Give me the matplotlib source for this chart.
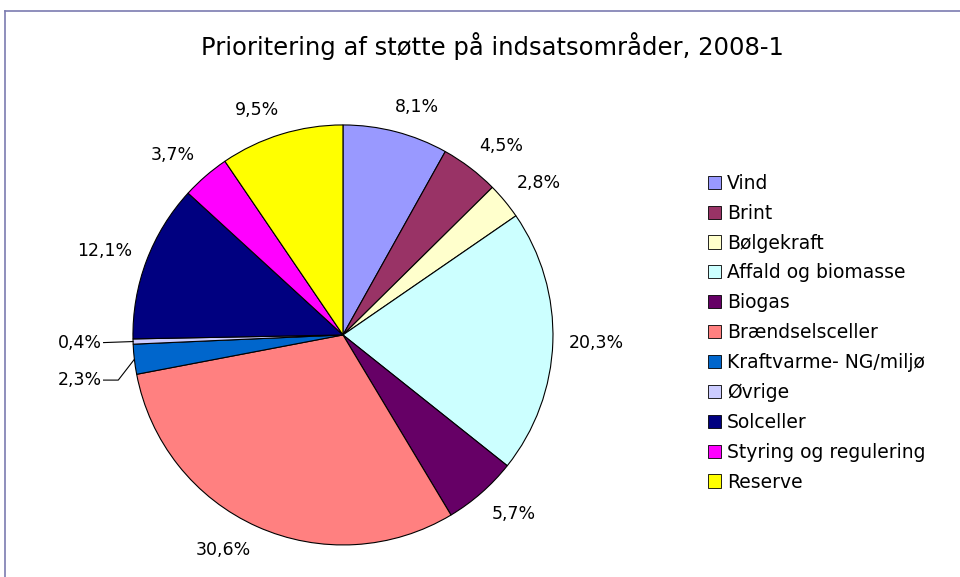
import numpy as np
import matplotlib
matplotlib.use("Agg")
import matplotlib.pyplot as plt
from matplotlib.lines import Line2D
from matplotlib.transforms import offset_copy

# Data
categories = ['Vind', 'Brint', 'Bølgekraft', 'Affald og biomasse', 'Biogas',
              'Brændselsceller', 'Kraftvarme- NG/miljø', 'Øvrige', 'Solceller',
              'Styring og regulering', 'Reserve']
shares = [8.1, 4.5, 2.8, 20.3, 5.7, 30.6, 2.3, 0.4, 12.1, 3.7, 9.5]
colors = ['#9999FF', '#993366', '#FFFFCC', '#CCFFFF', '#660066', '#FF8080',
          '#0066CC', '#CCCCFF', '#000080', '#FF00FF', '#FFFF00']
title = 'Prioritering af støtte på indsatsområder, 2008-1'

plt.rcParams['font.family'] = ['DejaVu Sans']

fig = plt.figure(figsize=(9.6, 5.77), dpi=100)
ax = fig.add_axes([0.1385, 0.0555, 0.4375, 0.728])
ax.axis('off')

wedges, _ = ax.pie(shares, colors=colors, startangle=90, counterclock=False,
                   radius=1.0, wedgeprops=dict(edgecolor='black', linewidth=0.8))
ax.set_xlim(-1, 1)
ax.set_ylim(-1, 1)

# Percent labels around the pie (box pushed outward like Excel does)
fig.canvas.draw()
renderer = fig.canvas.get_renderer()
cum = np.cumsum([0] + shares[:-1])
for i, (start, val) in enumerate(zip(cum, shares)):
    mid = (start + val / 2) / 100 * 360  # clockwise from top
    theta = np.deg2rad(90 - mid)
    c, s = np.cos(theta), np.sin(theta)
    txt = f'{val:.1f}%'.replace('.', ',')
    if categories[i] == 'Øvrige':
        ax.plot([c, -1.14], [s, s - 0.005], color='black', lw=0.8, clip_on=False)
        ax.text(-1.15, s - 0.005, txt, ha='right', va='center', fontsize=12.5)
    elif categories[i] == 'Kraftvarme- NG/miljø':
        ax.plot([c, -1.07, -1.14], [s, -0.215, -0.215], color='black', lw=0.8, clip_on=False)
        ax.text(-1.15, -0.215, txt, ha='right', va='center', fontsize=12.5)
    else:
        r = 1.075
        t = ax.text(r * c, r * s, txt, ha='center', va='center', fontsize=12.5)
        bb = t.get_window_extent(renderer)
        dx = bb.width / 2 * np.clip(3 * c, -1, 1)
        dy = bb.height / 2 * np.clip(1.4 * s, -1, 1)
        t.set_transform(offset_copy(ax.transData, fig, x=dx, y=dy, units='dots'))

fig.text(0.513, 0.921, title, ha='center', va='center', fontsize=17.5)

leg = fig.legend(wedges, categories, loc='upper left', bbox_to_anchor=(0.72, 0.728),
                 frameon=False, fontsize=13.5, handlelength=0.7, handleheight=0.7,
                 handletextpad=0.3, labelspacing=0.58)
for h in leg.legend_handles:
    h.set_edgecolor('black')
    h.set_linewidth(0.6)

# Chart border (top and left visible)
bc = '#7c7cb0'
fig.add_artist(Line2D([5 / 960, 1], [1 - 11 / 577, 1 - 11 / 577], color=bc, lw=1.2))
fig.add_artist(Line2D([5 / 960, 5 / 960], [0, 1 - 11 / 577], color=bc, lw=1.2))

fig.savefig('out.png', dpi=100)
